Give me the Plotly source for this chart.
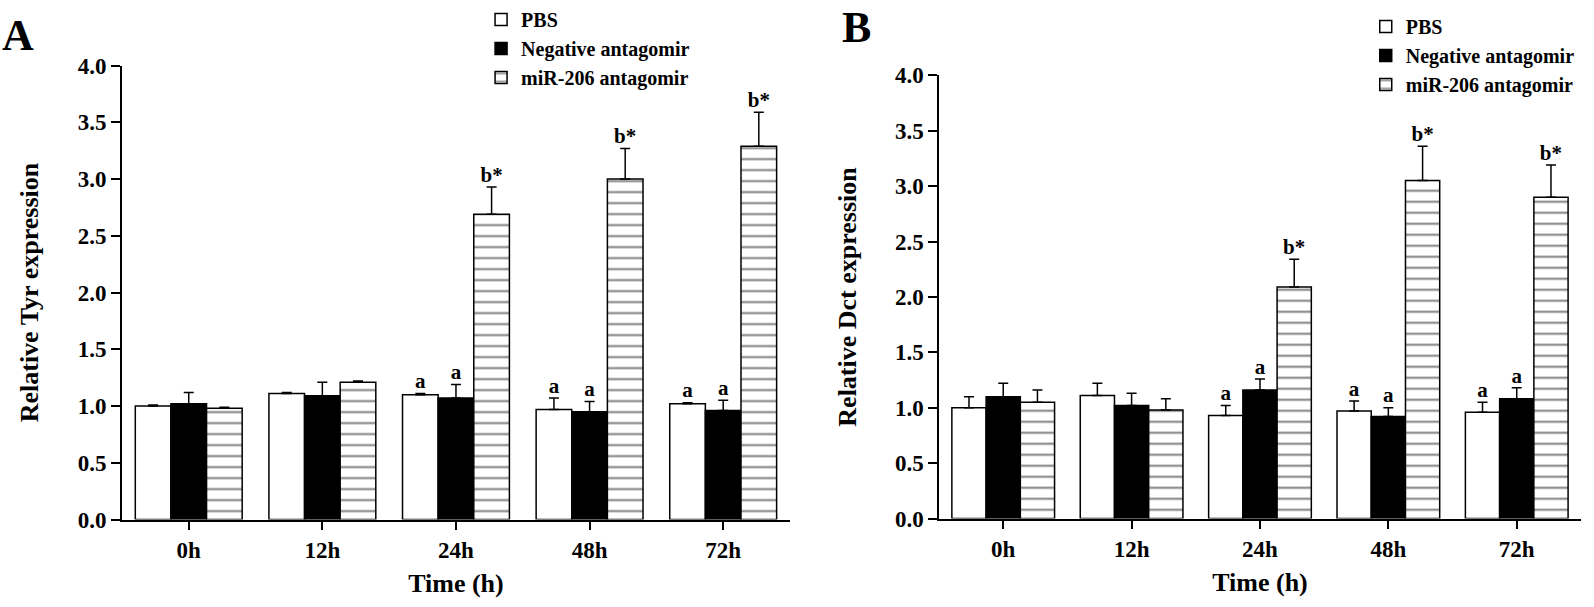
import plotly.graph_objects as go
from plotly.subplots import make_subplots

times = ["0h", "12h", "24h", "48h", "72h"]
groups = ["PBS", "Negative antagomir", "miR-206 antagomir"]

# panel A - Tyr
tyr_pbs = [1.00, 1.11, 1.10, 0.97, 1.02]
tyr_pbs_err = [0.01, 0.01, 0.01, 0.10, 0.01]
tyr_neg = [1.02, 1.09, 1.07, 0.95, 0.96]
tyr_neg_err = [0.10, 0.12, 0.12, 0.09, 0.09]
tyr_mir = [0.98, 1.21, 2.69, 3.00, 3.29]
tyr_mir_err = [0.01, 0.01, 0.24, 0.27, 0.30]
tyr_pbs_lbl = ["", "", "a", "a", "a"]
tyr_neg_lbl = ["", "", "a", "a", "a"]
tyr_mir_lbl = ["", "", "b*", "b*", "b*"]

# panel B - Dct
dct_pbs = [1.00, 1.11, 0.93, 0.97, 0.96]
dct_pbs_err = [0.10, 0.11, 0.09, 0.09, 0.09]
dct_neg = [1.10, 1.02, 1.16, 0.92, 1.08]
dct_neg_err = [0.12, 0.11, 0.10, 0.08, 0.10]
dct_mir = [1.05, 0.98, 2.09, 3.05, 2.90]
dct_mir_err = [0.11, 0.10, 0.25, 0.31, 0.29]
dct_pbs_lbl = ["", "", "a", "a", "a"]
dct_neg_lbl = ["", "", "a", "a", "a"]
dct_mir_lbl = ["", "", "b*", "b*", "b*"]

FONT = "Liberation Serif"

stripes = dict(shape="-", fgcolor="black", bgcolor="white", size=11, solidity=0.18,
               fillmode="overlay")
fills = [("white", None), ("black", None), ("white", stripes)]

fig = make_subplots(rows=1, cols=2)

panels = [
    (1, "legend", [(tyr_pbs, tyr_pbs_err, tyr_pbs_lbl), (tyr_neg, tyr_neg_err, tyr_neg_lbl),
                   (tyr_mir, tyr_mir_err, tyr_mir_lbl)]),
    (2, "legend2", [(dct_pbs, dct_pbs_err, dct_pbs_lbl), (dct_neg, dct_neg_err, dct_neg_lbl),
                    (dct_mir, dct_mir_err, dct_mir_lbl)]),
]

for col, leg, series in panels:
    for name, (color, patt), (vals, errs, _) in zip(groups, fills, series):
        marker = dict(color=color, line=dict(color="black", width=1.5))
        if patt:
            marker["pattern"] = patt
        fig.add_trace(go.Bar(
            x=times, y=vals, name=name, marker=marker, legend=leg,
            error_y=dict(type="data", symmetric=False, array=errs, arrayminus=[0] * len(errs),
                         color="black", thickness=1.5, width=5),
        ), row=1, col=col)
    # significance letters sit on top of the error bars
    for vals, errs, lbls in series:
        fig.add_trace(go.Scatter(
            x=times, y=[v + e for v, e in zip(vals, errs)], text=lbls, mode="text",
            textposition="top center", showlegend=False, cliponaxis=False, hoverinfo="skip",
            textfont=dict(family=FONT, size=21, color="black", weight="bold"),
        ), row=1, col=col)

tick_font = dict(family=FONT, size=23, color="black", weight="bold")
title_font = dict(family=FONT, size=26, color="black", weight="bold")

axis_common = dict(showline=True, linecolor="black", linewidth=1.5, ticks="outside",
                   ticklen=9, tickwidth=1.5, tickcolor="black", showgrid=False,
                   zeroline=False, tickfont=tick_font, automargin=False)

fig.update_xaxes(range=[-0.5, 4.5], **axis_common)
fig.update_yaxes(range=[0, 4], dtick=0.5, tickformat=".1f", **axis_common)

fig.update_layout(
    xaxis=dict(domain=[0.0765, 0.4956],
               title=dict(text="Time (h)", font=title_font, standoff=12)),
    xaxis2=dict(domain=[0.5891, 0.9918],
                title=dict(text="Time (h)", font=title_font, standoff=12)),
    yaxis=dict(domain=[0.1483, 0.9176],
               title=dict(text="Relative Tyr expression", font=title_font, standoff=32)),
    yaxis2=dict(domain=[0.1499, 0.9012],
                title=dict(text="Relative Dct expression", font=title_font, standoff=31)),
)

legend_common = dict(font=dict(family=FONT, size=20, color="black", weight="bold"),
                     bgcolor="rgba(0,0,0,0)", xanchor="left", yanchor="top")

fig.update_layout(
    width=1594, height=607,
    margin=dict(l=0, r=0, t=0, b=0),
    plot_bgcolor="white", paper_bgcolor="white",
    barmode="group", bargap=0.2, bargroupgap=0,
    scattermode="group", scattergap=0.2,
    legend=dict(x=0.3018, y=1.0295, **legend_common),
    legend2=dict(x=0.8568, y=1.017, **legend_common),
    annotations=[
        dict(text="A", x=0.0, y=0.968, xref="paper", yref="paper", xanchor="left",
             yanchor="middle", showarrow=False,
             font=dict(family=FONT, size=44, color="black", weight="bold")),
        dict(text="B", x=0.527, y=0.9827, xref="paper", yref="paper", xanchor="left",
             yanchor="middle", showarrow=False,
             font=dict(family=FONT, size=44, color="black", weight="bold")),
    ],
)

# drop the default page margin so the figure fills the window exactly
fig.write_html("out.html", config={"displayModeBar": False},
               post_script="document.body.style.margin='0';document.body.style.overflow='hidden';")
